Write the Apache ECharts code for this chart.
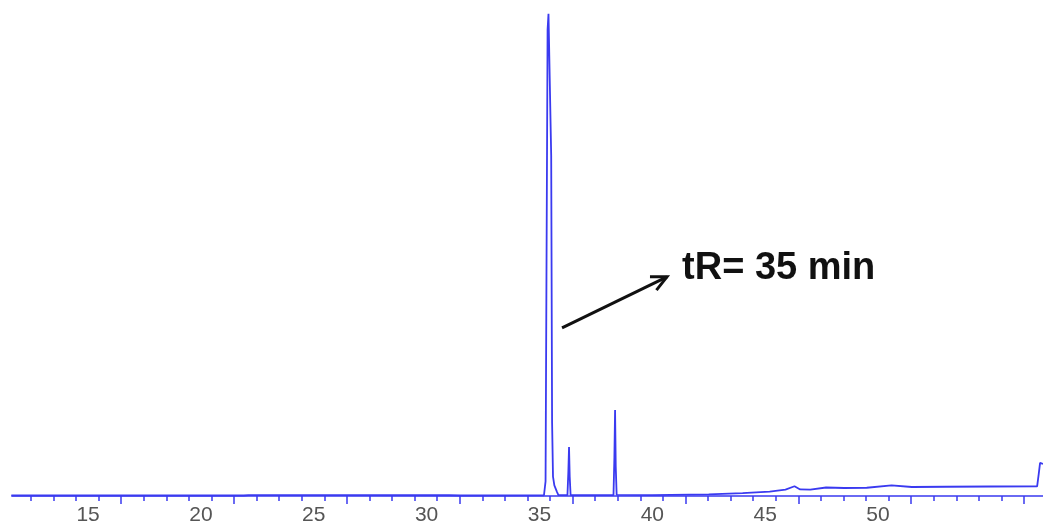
<!DOCTYPE html>
<html>
<head>
<meta charset="utf-8">
<title>Chromatogram</title>
<script src="https://cdn.jsdelivr.net/npm/echarts@6/dist/echarts.min.js"></script>
<style>
  html, body { margin: 0; padding: 0; background: #ffffff; }
  #chart { width: 1043px; height: 527px; }
</style>
</head>
<body>
<div id="chart"></div>
<script>
// Retention time (min) and detector response (% of largest peak)
const times = [
  11.6, 15, 20, 21.9, 22.1, 26, 31, 31.5,
  35.2, 35.27, 35.31, 35.36, 35.4, 35.46, 35.52, 35.56, 35.6, 35.66, 35.72, 35.78, 35.84,
  36.24, 36.28, 36.31, 36.34, 36.38,
  38.28, 38.32, 38.35, 38.38, 38.42,
  40, 42.5, 44, 45.2, 45.9, 46.3, 46.55, 47, 47.7, 48.5, 49.5, 50.6, 51.5, 53, 55,
  57.05, 57.12, 57.18, 57.25, 57.31
];
const response = [
  0.1, 0.1, 0.1, 0.1, 0.18, 0.18, 0.15, 0.1,
  0.15, 3, 45, 96, 99.2, 99, 70, 15, 4, 2.2, 1.9, 0.8, 0.2,
  0.2, 5, 10.1, 4, 0.2,
  0.2, 8, 17.7, 6, 0.25,
  0.2, 0.35, 0.6, 0.9, 1.3, 2.0, 1.35, 1.3, 1.75, 1.65, 1.7, 2.2, 1.85, 1.9, 1.95,
  2.0, 4.5, 6.8, 6.7, 6.6
];

// Axis labels and tick marks (minutes)
const labelValues = [15, 20, 25, 30, 35, 40, 45, 50];
const minorTicks = [
  12.47, 13.47, 14.47, 15.47, 17.47, 18.47, 19.47, 20.47, 22.47, 23.47, 24.47, 25.47,
  27.47, 28.47, 29.47, 30.47, 32.47, 33.47, 34.47, 35.47, 37.47, 38.47, 39.47, 40.47,
  42.47, 43.47, 44.47, 45.47, 47.47, 48.47, 49.47, 50.47, 52.47, 53.47, 54.47, 55.47
];
const majorTicks = [16.47, 21.47, 26.47, 31.47, 36.47, 41.47, 46.47, 51.47, 56.47];

// Annotation: arrow from tail to head (data coordinates) and its text
const annotationText = 'tR= 35 min';
const arrowTail = [36.0, 34.6];
const arrowHead = [40.65, 45.1];
const textAnchor = [41.32, 46.9];

const X_MIN = 11.63, X_MAX = 57.31;
const traceColor = '#3a3af0';

const chart = echarts.init(document.getElementById('chart'));
const points = times.map((t, i) => [t, response[i]]);

chart.setOption({
  animation: false,
  backgroundColor: '#ffffff',
  grid: { left: 12, right: 0, top: 10, bottom: 31 },
  xAxis: [
    {
      type: 'value', min: X_MIN, max: X_MAX,
      axisLine: { show: true, lineStyle: { color: traceColor, width: 1.5 } },
      axisTick: { show: true, customValues: minorTicks, length: 5, inside: false,
                  lineStyle: { color: traceColor, width: 1.5 } },
      axisLabel: { show: true, customValues: labelValues, margin: 9,
                   color: '#555555', fontSize: 21, fontFamily: 'Liberation Sans, Arial, sans-serif' },
      splitLine: { show: false }
    },
    {
      type: 'value', min: X_MIN, max: X_MAX, position: 'bottom',
      axisLine: { show: false },
      axisTick: { show: true, customValues: majorTicks, length: 8, inside: false,
                  lineStyle: { color: traceColor, width: 1.5 } },
      axisLabel: { show: false },
      splitLine: { show: false }
    }
  ],
  yAxis: {
    type: 'value', min: 0, max: 100, show: false,
    splitLine: { show: false }
  },
  series: [{
    type: 'line',
    data: points,
    xAxisIndex: 0,
    showSymbol: false,
    smooth: false,
    lineStyle: { color: traceColor, width: 1.8 },
    clip: true
  }]
});

// Arrow and retention-time text placed through the chart's own coordinate system
const tail = chart.convertToPixel({ xAxisIndex: 0, yAxisIndex: 0 }, arrowTail);
const head = chart.convertToPixel({ xAxisIndex: 0, yAxisIndex: 0 }, arrowHead);
const txt = chart.convertToPixel({ xAxisIndex: 0, yAxisIndex: 0 }, textAnchor);
const ang = Math.atan2(head[1] - tail[1], head[0] - tail[0]);
const headLen = 17, spread = 0.45;
const wing1 = [head[0] - headLen * Math.cos(ang - spread), head[1] - headLen * Math.sin(ang - spread)];
const wing2 = [head[0] - headLen * Math.cos(ang + spread), head[1] - headLen * Math.sin(ang + spread)];

chart.setOption({
  graphic: [
    { type: 'line', shape: { x1: tail[0], y1: tail[1], x2: head[0], y2: head[1] },
      style: { stroke: '#111111', lineWidth: 3 } },
    { type: 'polyline', shape: { points: [wing1, head, wing2] },
      style: { stroke: '#111111', lineWidth: 3, fill: null, lineJoin: 'miter' } },
    { type: 'text', x: txt[0], y: txt[1],
      style: { text: annotationText, fill: '#111111', font: 'bold 38px "Liberation Sans", Arial, sans-serif',
               textAlign: 'left', textVerticalAlign: 'middle' } }
  ]
});
</script>
</body>
</html>
